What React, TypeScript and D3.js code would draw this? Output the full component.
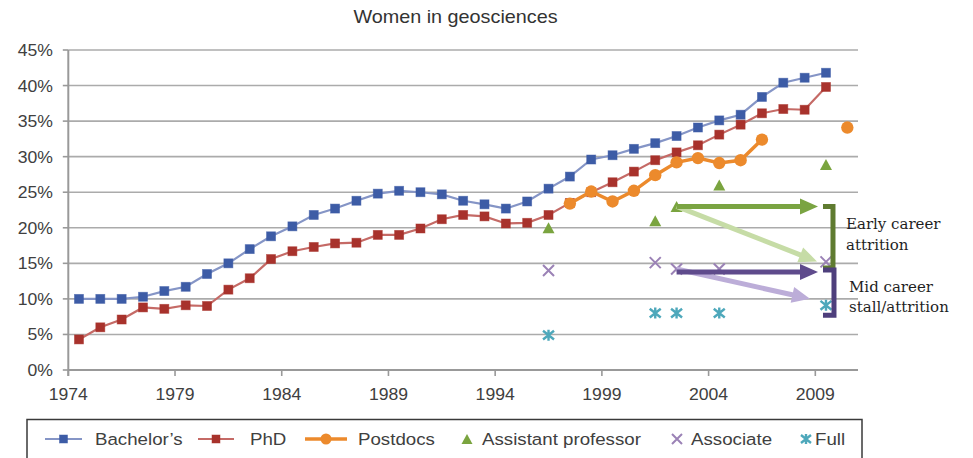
import React from "react";
import * as d3 from "d3";

const W = 973;
const H = 458;

const years = [1974,1975,1976,1977,1978,1979,1980,1981,1982,1983,1984,1985,1986,1987,1988,1989,1990,1991,1992,1993,1994,1995,1996,1997,1998,1999,2000,2001,2002,2003,2004,2005,2006,2007,2008,2009];
const bachelors = [10.0,10.0,10.0,10.3,11.1,11.7,13.5,15.0,17.0,18.8,20.2,21.8,22.7,23.8,24.8,25.2,25.0,24.7,23.8,23.3,22.7,23.7,25.5,27.2,29.6,30.2,31.1,31.9,32.9,34.1,35.1,35.9,38.4,40.4,41.1,41.8];
const phd = [4.3,6.0,7.1,8.8,8.6,9.1,9.0,11.3,12.9,15.6,16.7,17.3,17.8,17.9,19.0,19.0,19.9,21.2,21.8,21.6,20.6,20.7,21.8,23.5,25.0,26.4,27.9,29.5,30.6,31.6,33.1,34.5,36.1,36.7,36.6,39.8];

const postdocYears = [1997,1998,1999,2000,2001,2002,2003,2004,2005,2006,2007,2008,2009,2010];
const postdocs: (number | null)[] = [23.4,25.1,23.7,25.2,27.4,29.2,29.8,29.1,29.5,32.4,null,null,null,34.1];

const facultyYears = [1996,2001,2002,2004,2009];
const assistant = [20.0,21.0,23.0,26.0,28.9];
const associate = [14.0,15.1,14.2,14.2,15.2];
const full = [4.9,8.0,8.0,8.0,9.1];

const yTicks = [0,5,10,15,20,25,30,35,40,45];
const xTicks = [1974,1979,1984,1989,1994,1999,2004,2009];

const legendLabels = ["Bachelor\u2019s","PhD","Postdocs","Assistant professor","Associate","Full"];

const C = {
  blue: "#3d5ca6", blueLine: "#8595c6",
  red: "#a8322c", redLine: "#c56a66",
  orange: "#ec8a2c",
  green: "#7aa43f",
  purple: "#9b82b6",
  teal: "#4ea8bb",
  grid: "#ababab",
  axis: "#999999",
  text: "#404040",
};

const x = d3.scaleLinear().domain([1974, 2011]).range([68.3, 858]);
const y = d3.scaleLinear().domain([0, 45]).range([370, 50]);
const px = (yr: number) => x(yr + 0.5);

const SANS = "'Liberation Sans', Arial, sans-serif";
const SERIF = "'DejaVu Serif', Georgia, serif";

function T({ x, y, size, anchor = "start", sx = 1.1, fill = C.text, family = SANS, children }: any) {
  return (
    <text transform={`translate(${x},${y}) scale(${sx},1)`} textAnchor={anchor} fontSize={size} fontFamily={family} fill={fill}>
      {children}
    </text>
  );
}

function Square({ cx, cy, fill, s = 9 }: any) {
  return <rect x={cx - s / 2} y={cy - s / 2} width={s} height={s} fill={fill} stroke={fill} strokeOpacity={0.6} strokeWidth={0.8} />;
}
function Tri({ cx, cy, fill, w = 12, h = 11 }: any) {
  return <path d={`M${cx},${cy - h / 2} L${cx + w / 2},${cy + h / 2} L${cx - w / 2},${cy + h / 2} Z`} fill={fill} />;
}
function Cross({ cx, cy, stroke, s = 5.5 }: any) {
  return <path d={`M${cx - s},${cy - s} L${cx + s},${cy + s} M${cx - s},${cy + s} L${cx + s},${cy - s}`} stroke={stroke} strokeWidth={2} fill="none" />;
}
function Star({ cx, cy, stroke, s = 5.5 }: any) {
  return <path d={`M${cx - s},${cy - s * 0.8} L${cx + s},${cy + s * 0.8} M${cx - s},${cy + s * 0.8} L${cx + s},${cy - s * 0.8} M${cx},${cy - s} V${cy + s}`} stroke={stroke} strokeWidth={2.4} fill="none" />;
}

function Arrow({ x1, y1, x2, y2, color, w = 5, hl = 18, hw = 8 }: any) {
  const dx = x2 - x1, dy = y2 - y1;
  const L = Math.hypot(dx, dy);
  const ux = dx / L, uy = dy / L;
  const bx = x2 - ux * hl, by = y2 - uy * hl;
  const nx = -uy, ny = ux;
  return (
    <g>
      <line x1={x1} y1={y1} x2={bx + ux * 2} y2={by + uy * 2} stroke={color} strokeWidth={w} />
      <path d={`M${x2},${y2} L${bx + nx * hw},${by + ny * hw} L${bx - nx * hw},${by - ny * hw} Z`} fill={color} />
    </g>
  );
}

export default function App() {
  const lineGen = (ys: (number | null)[], xs: number[]) =>
    d3.line<number>()
      .defined((_, i) => ys[i] != null)
      .x((_, i) => px(xs[i]))
      .y((_, i) => y(ys[i] as number))(xs);

  const x0 = x.range()[0], x1 = x.range()[1];
  const yAst = y(assistant[2]);
  const yAsc = y(associate[2]);
  const xs = px(facultyYears[2]);
  const xe = px(facultyYears[4]) - 8;
  const legY = 445;
  const legCy = 439;

  return (
    <svg width={W} height={H} style={{ position: "absolute", left: 0, top: 0, background: "#fff" }}>
      <rect width={W} height={H} fill="#fff" />
      <T x={455.5} y={23} size={18} anchor="middle" fill="#333">Women in geosciences</T>

      {yTicks.map((t) => (
        <g key={t}>
          {t > 0 && <line x1={x0} x2={x1} y1={y(t)} y2={y(t)} stroke={C.grid} strokeWidth={1.6} />}
          <line x1={x0 - 5.5} x2={x0} y1={y(t)} y2={y(t)} stroke={C.axis} strokeWidth={1.6} />
          <T x={53} y={y(t) + 6} size={16} anchor="end">{`${t}%`}</T>
        </g>
      ))}
      <line x1={x0} x2={x0} y1={y(45)} y2={y(0) + 6} stroke={C.axis} strokeWidth={2} />
      <line x1={x0} x2={x1} y1={y(0)} y2={y(0)} stroke={C.axis} strokeWidth={2} />
      {xTicks.map((t) => (
        <g key={t}>
          <line x1={x(t)} x2={x(t)} y1={y(0)} y2={y(0) + 6} stroke={C.axis} strokeWidth={1.6} />
          <T x={x(t)} y={400} size={16} anchor="middle">{t}</T>
        </g>
      ))}

      <path d={lineGen(bachelors, years) || ""} fill="none" stroke={C.blueLine} strokeWidth={2.2} />
      <path d={lineGen(phd, years) || ""} fill="none" stroke={C.redLine} strokeWidth={2.2} />
      {years.map((yr, i) => <Square key={"b" + yr} cx={px(yr)} cy={y(bachelors[i])} fill={C.blue} />)}
      {years.map((yr, i) => <Square key={"p" + yr} cx={px(yr)} cy={y(phd[i])} fill={C.red} />)}

      <path d={lineGen(postdocs, postdocYears) || ""} fill="none" stroke={C.orange} strokeWidth={3.5} />
      {postdocYears.map((yr, i) => postdocs[i] != null && (
        <circle key={"o" + yr} cx={px(yr)} cy={y(postdocs[i] as number)} r={6.2} fill={C.orange} />
      ))}

      {facultyYears.map((yr, i) => <Tri key={"a" + yr} cx={px(yr)} cy={y(assistant[i])} fill={C.green} />)}
      {facultyYears.map((yr, i) => <Cross key={"s" + yr} cx={px(yr)} cy={y(associate[i])} stroke={C.purple} />)}
      {facultyYears.map((yr, i) => <Star key={"f" + yr} cx={px(yr)} cy={y(full[i])} stroke={C.teal} />)}

      {/* annotations */}
      <Arrow x1={xs} y1={yAst} x2={xe - 1} y2={y(associate[4]) - 0.5} color="#c6dca6" />
      <Arrow x1={xs} y1={yAst} x2={xe} y2={yAst} color="#7aa442" />
      <path d={`M${xe + 5},${yAst} H${xe + 15} V${y(associate[4]) + 6} H${xe + 5}`} fill="none" stroke="#5f7b30" strokeWidth={5} />
      <Arrow x1={xs} y1={yAsc} x2={xe - 8} y2={y(full[4]) - 6.5} color="#bcadd8" />
      <Arrow x1={xs} y1={yAsc + 3} x2={xe} y2={yAsc + 3} color="#5f4b8c" />
      <path d={`M${xe + 5},${yAsc + 1} H${xe + 16} V${y(full[4]) + 10} H${xe + 5}`} fill="none" stroke="#4e3f7c" strokeWidth={5} />

      <T x={846} y={229} size={15} sx={1} family={SERIF} fill="#1e1e1e">Early career</T>
      <T x={846} y={250} size={15} sx={1} family={SERIF} fill="#1e1e1e">attrition</T>
      <T x={849} y={292} size={15} sx={1} family={SERIF} fill="#1e1e1e">Mid career</T>
      <T x={849} y={312} size={15} sx={1} family={SERIF} fill="#1e1e1e">stall/attrition</T>

      {/* legend */}
      <rect x={27} y={419.5} width={835} height={60} fill="#fff" stroke="#3a3a3a" strokeWidth={1.5} />
      <line x1={45} x2={82} y1={legCy} y2={legCy} stroke={C.blueLine} strokeWidth={2} />
      <Square cx={63.5} cy={legCy} fill={C.blue} s={8} />
      <T x={95} y={legY} size={17}>{legendLabels[0]}</T>
      <line x1={198} x2={234} y1={legCy} y2={legCy} stroke={C.redLine} strokeWidth={2} />
      <Square cx={216} cy={legCy} fill={C.red} s={8} />
      <T x={250} y={legY} size={17}>{legendLabels[1]}</T>
      <line x1={305} x2={347} y1={legCy} y2={legCy} stroke={C.orange} strokeWidth={3.5} />
      <circle cx={326} cy={legCy} r={5.5} fill={C.orange} />
      <T x={358} y={legY} size={17}>{legendLabels[2]}</T>
      <Tri cx={467} cy={legCy} fill={C.green} w={11} h={10} />
      <T x={482} y={legY} size={17}>{legendLabels[3]}</T>
      <Cross cx={677} cy={legCy} stroke={C.purple} s={5} />
      <T x={691} y={legY} size={17}>{legendLabels[4]}</T>
      <Star cx={806} cy={legCy} stroke={C.teal} s={5} />
      <T x={815} y={legY} size={17}>{legendLabels[5]}</T>
    </svg>
  );
}
